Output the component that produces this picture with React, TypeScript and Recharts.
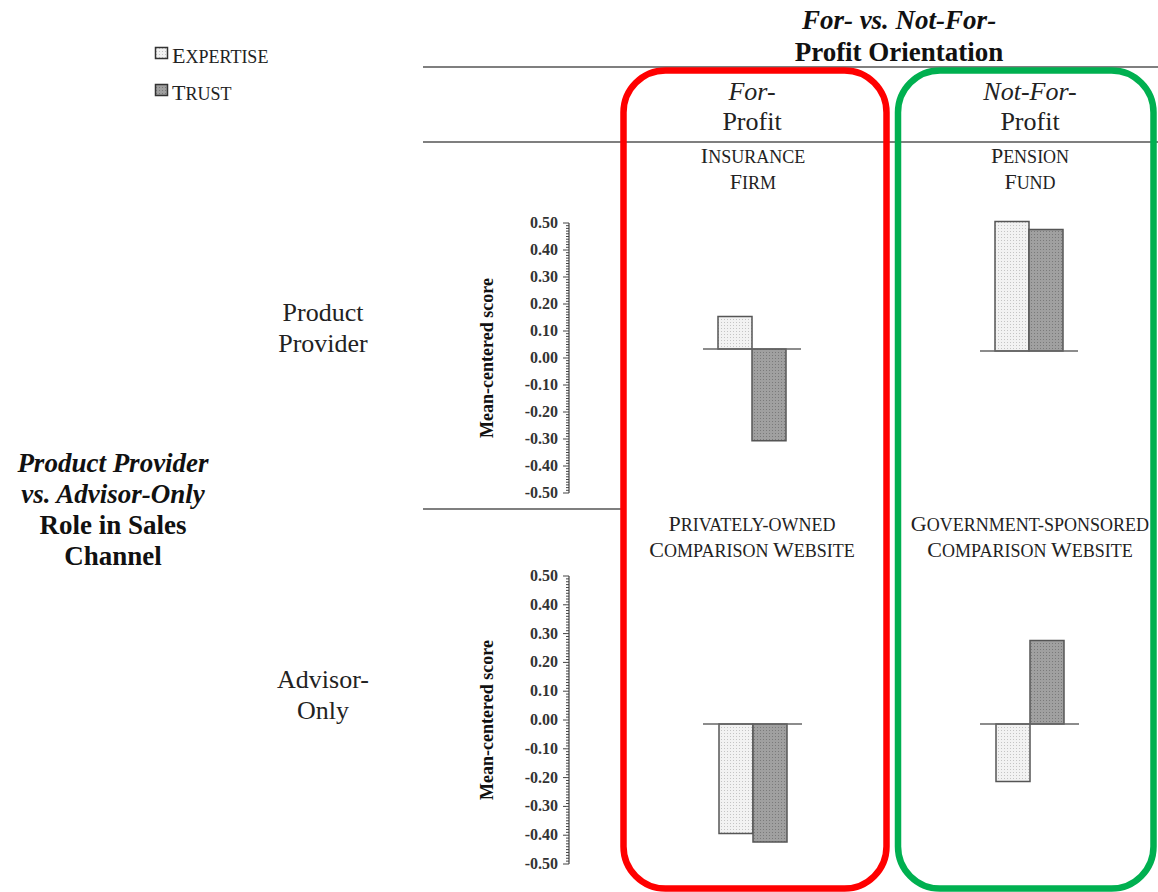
import React from "react";
import { BarChart, Bar, XAxis, YAxis, ReferenceLine } from "recharts";

// panel order: top-left, top-right, bottom-left, bottom-right
const panelNames = [
  "Insurance Firm",
  "Pension Fund",
  "Privately-owned Comparison Website",
  "Government-sponsored Comparison Website",
];
const expertiseValues = [0.12, 0.48, -0.38, -0.2];
const trustValues = [-0.34, 0.45, -0.41, 0.29];

const panelTitleLines = [
  ["Insurance", "Firm"],
  ["Pension", "Fund"],
  ["Privately-owned", "Comparison Website"],
  ["Government-sponsored", "Comparison Website"],
];
const majorTicks = [0.5, 0.4, 0.3, 0.2, 0.1, 0, -0.1, -0.2, -0.3, -0.4, -0.5];
const rowLabels = [
  ["Product", "Provider"],
  ["Advisor-", "Only"],
];
const axisTitle = "Mean-centered score";

const SERIF = "'Liberation Serif', 'DejaVu Serif', serif";

// minor ticks every 0.01 between the labelled ones
const allTicks: number[] = [];
for (let i = -50; i <= 50; i++) allTicks.push(i / 100);

// layout (page pixels)
const panelBoxes = [
  { left: 703, top: 214, width: 98, height: 270 },
  { left: 980, top: 216, width: 98, height: 270 },
  { left: 703, top: 580, width: 99, height: 288 },
  { left: 980, top: 580, width: 99, height: 288 },
];
const axisBoxes = [
  { left: 440, top: 213, height: 290 },
  { left: 440, top: 566, height: 308 },
];

function SmallCaps({ text, big = 22, small = 18 }: { text: string; big?: number; small?: number }) {
  const parts: { s: string; up: boolean }[] = [];
  for (const ch of text) {
    const up = ch !== ch.toLowerCase();
    const last = parts[parts.length - 1];
    if (last && last.up === up) last.s += ch;
    else parts.push({ s: ch, up });
  }
  return (
    <>
      {parts.map((p, i) => (
        <tspan key={i} fontSize={p.up ? big : small}>
          {p.s.toUpperCase()}
        </tspan>
      ))}
    </>
  );
}

const AxisTick = (props: any) => {
  const { x, y, payload } = props;
  const v: number = payload.value;
  const major = majorTicks.some((m) => Math.abs(m - v) < 1e-6);
  return (
    <g>
      <line x1={x - (major ? 6 : 3)} x2={x} y1={y} y2={y} stroke="#444" strokeWidth={1} />
      {major && (
        <text
          x={x - 11}
          y={y}
          dy={5}
          textAnchor="end"
          fontSize={16}
          fontWeight="bold"
          fill="#333"
          fontFamily={SERIF}
        >
          {v.toFixed(2)}
        </text>
      )}
    </g>
  );
};

function AxisColumn({ box, data }: { box: { left: number; top: number; height: number }; data: any[] }) {
  return (
    <div style={{ position: "absolute", left: box.left, top: box.top }}>
      <BarChart width={140} height={box.height} data={data} margin={{ top: 10, right: 0, bottom: 10, left: 0 }}>
        <XAxis dataKey="name" hide />
        <YAxis
          width={129}
          type="number"
          domain={[-0.5, 0.5]}
          allowDataOverflow
          ticks={allTicks}
          interval={0}
          tickSize={0}
          tickMargin={0}
          tickLine={false}
          tick={<AxisTick />}
          axisLine={{ stroke: "#444", strokeWidth: 1.2 }}
          label={{
            content: (p: any) => {
              const vb = p.viewBox;
              const cx = 487;
              const cy = vb.y + vb.height / 2;
              return (
                <text
                  x={cx - box.left}
                  y={cy}
                  transform={`rotate(-90, ${cx - box.left}, ${cy})`}
                  textAnchor="middle"
                  dy={6}
                  fontSize={18}
                  fontWeight="bold"
                  fill="#111"
                  fontFamily={SERIF}
                >
                  {axisTitle}
                </text>
              );
            },
          }}
        />
      </BarChart>
    </div>
  );
}

function Panel({ idx }: { idx: number }) {
  const b = panelBoxes[idx];
  const data = [{ name: panelNames[idx], expertise: expertiseValues[idx], trust: trustValues[idx] }];
  return (
    <div style={{ position: "absolute", left: b.left, top: b.top }}>
      <BarChart
        width={b.width}
        height={b.height}
        data={data}
        margin={{ top: 0, right: 0, bottom: 0, left: 0 }}
        barGap={0}
        barSize={34}
      >
        <XAxis dataKey="name" hide />
        <YAxis hide type="number" domain={[-0.5, 0.5]} allowDataOverflow />
        <Bar dataKey="expertise" fill="url(#patExpertise)" stroke="#555" strokeWidth={1.5} isAnimationActive={false} />
        <Bar dataKey="trust" fill="url(#patTrust)" stroke="#555" strokeWidth={1.5} isAnimationActive={false} />
        <ReferenceLine y={0} stroke="#666" strokeWidth={1.5} />
      </BarChart>
    </div>
  );
}

export default function App() {
  const rowData = [0, 1].map((r) =>
    [0, 1].map((c) => ({
      name: panelNames[r * 2 + c],
      expertise: expertiseValues[r * 2 + c],
      trust: trustValues[r * 2 + c],
    }))
  );
  const titleCenters = [753, 1030, 752, 1030];
  const titleBase = [163, 163, 531, 531];

  return (
    <div
      style={{
        position: "absolute",
        left: 0,
        top: 0,
        width: 1158,
        height: 892,
        overflow: "hidden",
        background: "#fff",
        fontFamily: SERIF,
      }}
    >
      <svg width={1158} height={892} style={{ position: "absolute", left: 0, top: 0 }} fontFamily={SERIF}>
        <defs>
          <pattern id="patExpertise" width={3} height={3} patternUnits="userSpaceOnUse">
            <rect width={3} height={3} fill="#f2f2f2" />
            <rect width={1} height={1} fill="#c4c4c4" />
          </pattern>
          <pattern id="patTrust" width={3} height={3} patternUnits="userSpaceOnUse">
            <rect width={3} height={3} fill="#a0a0a0" />
            <rect width={1} height={1} fill="#7a7a7a" />
          </pattern>
        </defs>

        {/* legend */}
        <rect x={155.5} y={47.5} width={12} height={11} fill="url(#patExpertise)" stroke="#333" strokeWidth={1.5} />
        <text x={172} y={63} fill="#222">
          <SmallCaps text="Expertise" />
        </text>
        <rect x={155.5} y={84.5} width={12} height={11} fill="url(#patTrust)" stroke="#333" strokeWidth={1.5} />
        <text x={172} y={100} fill="#222">
          <SmallCaps text="Trust" />
        </text>

        {/* header */}
        <text x={899} y={29} textAnchor="middle" fontSize={27} fontWeight="bold" fontStyle="italic" fill="#111">
          For- vs. Not-For-
        </text>
        <text x={899} y={61} textAnchor="middle" fontSize={27} fontWeight="bold" fill="#111">
          Profit Orientation
        </text>

        <line x1={423} x2={1158} y1={67} y2={67} stroke="#555" strokeWidth={1.5} />
        <line x1={423} x2={1158} y1={142} y2={142} stroke="#555" strokeWidth={1.5} />
        <line x1={423} x2={621} y1={509} y2={509} stroke="#555" strokeWidth={1.5} />

        <text x={752} y={100} textAnchor="middle" fontSize={26} fontStyle="italic" fill="#222">
          For-
        </text>
        <text x={752} y={130} textAnchor="middle" fontSize={26} fill="#222">
          Profit
        </text>
        <text x={1030} y={100} textAnchor="middle" fontSize={26} fontStyle="italic" fill="#222">
          Not-For-
        </text>
        <text x={1030} y={130} textAnchor="middle" fontSize={26} fill="#222">
          Profit
        </text>

        {panelTitleLines.map((lines, i) =>
          lines.map((ln, j) => (
            <text key={`${i}-${j}`} x={titleCenters[i]} y={titleBase[i] + j * 26} textAnchor="middle" fill="#222">
              <SmallCaps text={ln} />
            </text>
          ))
        )}

        {/* row labels */}
        {rowLabels.map((lines, r) =>
          lines.map((ln, j) => (
            <text key={`${r}-${j}`} x={323} y={(r === 0 ? 321 : 688) + j * 31} textAnchor="middle" fontSize={26} fill="#222">
              {ln}
            </text>
          ))
        )}

        <text x={113} y={472} textAnchor="middle" fontSize={27} fontWeight="bold" fontStyle="italic" fill="#111">
          Product Provider
        </text>
        <text x={113} y={503} textAnchor="middle" fontSize={27} fontWeight="bold" fontStyle="italic" fill="#111">
          vs. Advisor-Only
        </text>
        <text x={113} y={534} textAnchor="middle" fontSize={27} fontWeight="bold" fill="#111">
          Role in Sales
        </text>
        <text x={113} y={565} textAnchor="middle" fontSize={27} fontWeight="bold" fill="#111">
          Channel
        </text>

        {/* highlight boxes */}
        <rect x={623.5} y={70.5} width={263} height={818} rx={42} fill="none" stroke="#ff0000" strokeWidth={6.5} />
        <rect x={898} y={70.5} width={255.5} height={818} rx={42} fill="none" stroke="#00b050" strokeWidth={6.5} />
      </svg>

      <AxisColumn box={axisBoxes[0]} data={rowData[0]} />
      <AxisColumn box={axisBoxes[1]} data={rowData[1]} />
      {[0, 1, 2, 3].map((i) => (
        <Panel key={i} idx={i} />
      ))}
    </div>
  );
}
